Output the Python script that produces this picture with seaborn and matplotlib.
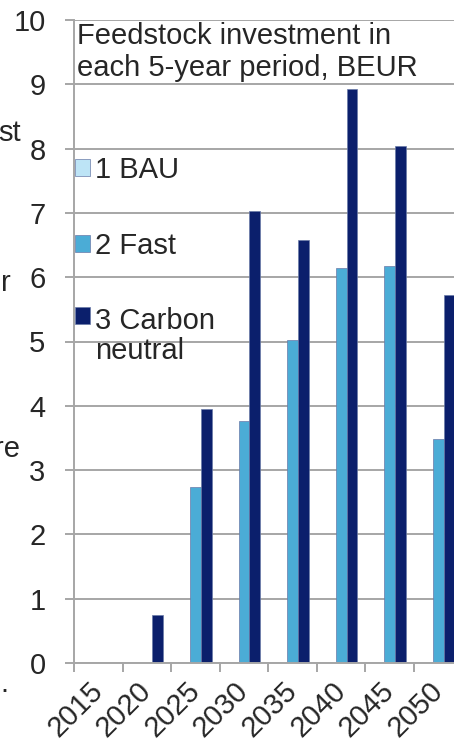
import seaborn as sns
import pandas as pd
import matplotlib.pyplot as plt

# Dados (BEUR por período de 5 anos)
years = ['2015', '2020', '2025', '2030', '2035', '2040', '2045', '2050']
bau = [0, 0, 0, 0, 0, 0, 0, 0]
fast = [0, 0, 2.73, 3.77, 5.03, 6.15, 6.17, 3.48]
carbon_neutral = [0, 0.75, 3.95, 7.03, 6.58, 8.92, 8.04, 5.72]
scenarios = ['1 BAU', '2 Fast', '3 Carbon\nneutral']
colors = ['#BDE4F6', '#4BACD6', '#0B1F6C']

df = pd.DataFrame({
    'year': years * 3,
    'value': bau + fast + carbon_neutral,
    'scenario': [s for s in scenarios for _ in years],
})

sns.set_style('white')
plt.rcParams['font.family'] = ['Liberation Sans', 'DejaVu Sans']
fs = 21
grey = '#A6A6A6'

fig = plt.figure(figsize=(4.54, 7.44), dpi=100)
ax = fig.add_axes([74 / 454, 81 / 744, 388.6 / 454, 643 / 744])

sns.barplot(data=df, x='year', y='value', hue='scenario', palette=colors,
            width=0.67, saturation=1, ax=ax, edgecolor='#6A7AA8', linewidth=0.5)

ax.set_ylim(0, 10)
ax.set_xlim(-0.5, 7.5)
ax.set_yticks(range(0, 11))
ax.yaxis.grid(True, color=grey, lw=1.4)
ax.set_axisbelow(True)
ax.set_xlabel('')
ax.set_ylabel('')

# ticks nas fronteiras das categorias, rótulos no centro
ax.set_xticks([i - 0.5 for i in range(len(years))])
ax.set_xticklabels([])
ax.set_xticks(range(len(years)), minor=True)
ax.set_xticklabels(years, minor=True, rotation=45, ha='right', va='center',
                   rotation_mode='anchor', fontsize=fs)
ax.tick_params(axis='x', which='major', length=6.5, width=1.4, color=grey, direction='out', bottom=True)
ax.tick_params(axis='x', which='minor', length=0, pad=17)
ax.tick_params(axis='y', length=6.5, width=1.4, color=grey, pad=14, labelsize=fs, left=True)

for s in ['top', 'right']:
    ax.spines[s].set_visible(False)
for s in ['left', 'bottom']:
    ax.spines[s].set_color(grey)
    ax.spines[s].set_linewidth(1.4)

ax.text(0.008, 0.997, 'Feedstock investment in\neach 5-year period, BEUR',
        transform=ax.transAxes, ha='left', va='top', fontsize=fs)

handles, labels = ax.get_legend_handles_labels()
leg = ax.legend(handles, labels, loc='upper left', bbox_to_anchor=(0.003, 0.788),
                frameon=False, fontsize=fs, handlelength=0.52, handleheight=0.52,
                handletextpad=0.15, labelspacing=1.62, borderpad=0, borderaxespad=0)
leg.texts[-1].set_linespacing(1.1)
for col in leg._legend_handle_box.get_children():
    items = col.get_children()
    items[-1].align = 'top'

# fragmentos de texto cortados à esquerda
for txt, x, y in [('st', 21, 133), ('r', 11, 283), ('re', 20, 449), ('.', 8, 684)]:
    fig.text(x / 454, 1 - y / 744, txt, ha='right', va='center', fontsize=fs)

fig.savefig('out.png', dpi=100)
